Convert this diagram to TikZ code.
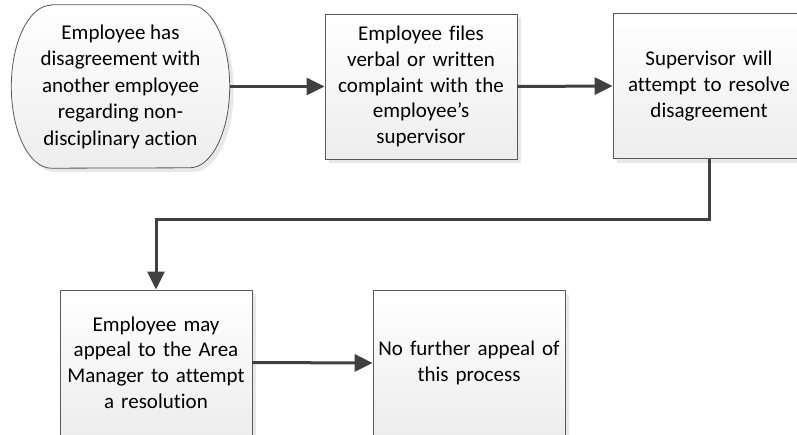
\documentclass[tikz,border=0pt]{standalone}
\usepackage{fontspec}
\setmainfont[Ligatures=NoCommon]{Carlito}
\usetikzlibrary{arrows.meta, shadows}

\begin{document}
\begin{tikzpicture}[x=1pt, y=1pt,
    stepbox/.style={draw=black!65, line width=0.8pt, top color=white, bottom color=black!7,
        minimum width=192pt, minimum height=145pt, align=center, inner sep=0pt,
        text width=188pt, font=\fontsize{21}{25.8}\selectfont,
        drop shadow={shadow xshift=4pt, shadow yshift=-4pt, fill=black!9, opacity=1}},
    flow/.style={draw=black!75, line width=3pt, -{Triangle[length=18pt, width=17pt]}}]
\useasboundingbox (0,0) rectangle (797,-434);

% Start of the process
\node[align=center, inner sep=0pt, minimum width=218pt, minimum height=163pt] (start) at (120.5,-86.5) {};
\draw[draw=black!65, line width=0.8pt, top color=white, bottom color=black!7,
    drop shadow={shadow xshift=4pt, shadow yshift=-4pt, fill=black!9, opacity=1}]
    ([xshift=40pt]start.north west) -- ([xshift=-40pt]start.north east)
    arc[start angle=90, end angle=-90, x radius=40pt, y radius=81.5pt]
    -- ([xshift=40pt]start.south west)
    arc[start angle=270, end angle=90, x radius=40pt, y radius=81.5pt] -- cycle;
\node[align=center, inner sep=0pt, font=\fontsize{21}{26.5}\selectfont] (starttext) at (start)
    {Employee has\\disagreement with\\another employee\\regarding non-\\disciplinary action};

% First row
\node[stepbox] (complaint) at (421,-86.5)
    {Employee files\\verbal or written\\complaint with the\\employee’s\\supervisor};
\node[stepbox] (resolve) at (709,-86)
    {Supervisor will\\attempt to resolve\\disagreement};

% Second row
\node[stepbox] (appeal) at (156,-362.5)
    {Employee may\\appeal to the Area\\Manager to attempt\\a resolution};
\node[stepbox] (final) at (469,-363)
    {No further appeal of\\this process};

\draw[flow] (start.east) -- (complaint.west);
\draw[flow] (complaint.east) -- (resolve.west);
\draw[flow] (resolve.south) -- ++(0,-60.5) -| (appeal.north);
\draw[flow] (appeal.east) -- (final.west);
\end{tikzpicture}
\end{document}
